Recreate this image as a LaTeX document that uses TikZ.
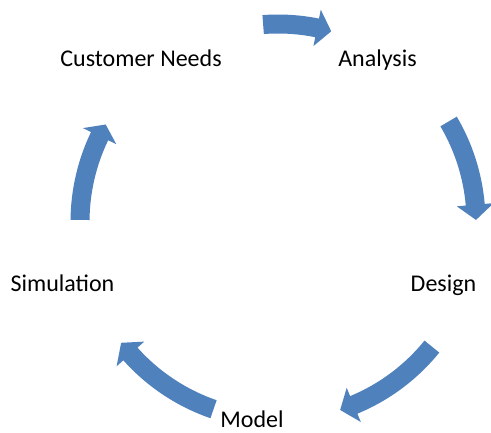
\documentclass[tikz,border=0pt]{standalone}
\usepackage{fontspec}
\setmainfont{Carlito}
\definecolor{arrowblue}{HTML}{4F81BD}
\tikzset{
  lbl/.style={anchor=base, inner sep=0pt, font=\fontsize{24}{28}\selectfont, text=black},
  arrowfill/.style={fill=arrowblue}
}
\newcommand\cyclearrow[3]{% tail angle, head base angle, tip angle
  \fill[arrowfill] (#1:207.5) arc[start angle=#1, end angle=#2, radius=207.5]
    -- (#2:216.5) -- (#3:198) -- (#2:179.5) -- (#2:188.5)
    arc[start angle=#2, end angle=#1, radius=188.5] -- cycle;}
\begin{document}
\begin{tikzpicture}[x=1pt,y=1pt]
\useasboundingbox (0,0) rectangle (491,433);
\fill[white] (0,0) rectangle (491,433);
\node[lbl] (cust) at (141,366) {Customer Needs};
\node[lbl] (anal) at (377.5,366) {Analysis};
\node[lbl] (des) at (443.5,141) {Design};
\node[lbl] (model) at (252,5) {Model};
\node[lbl] (sim) at (62.5,141) {Simulation};
\coordinate (ctr) at (278,211);
\begin{scope}[shift={(ctr)}]
  \cyclearrow{94.3}{78.6}{74.4}
  \cyclearrow{30.5}{5}{0.6}
  \cyclearrow{-39}{-67.5}{-71.7}
  \cyclearrow{-109}{-138.2}{-142.4}
  \cyclearrow{179.4}{154.3}{150.5}
\end{scope}
\end{tikzpicture}
\end{document}
